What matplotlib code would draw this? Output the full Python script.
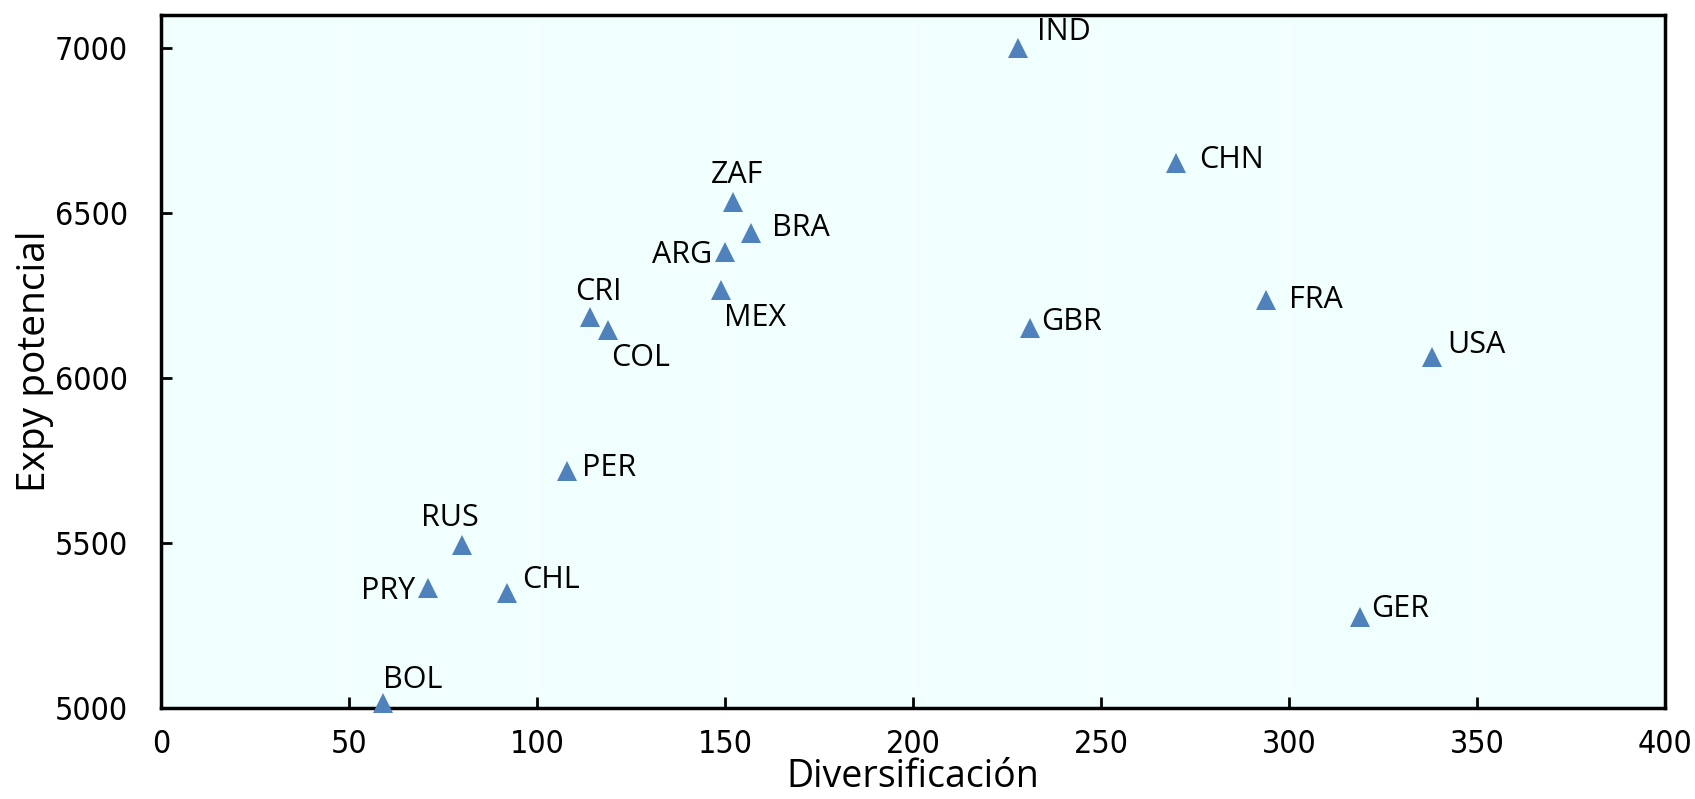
import matplotlib
matplotlib.use("Agg")
import matplotlib.pyplot as plt

# Country data: diversification vs. potential EXPY
countries = ['IND', 'CHN', 'ZAF', 'BRA', 'ARG', 'MEX', 'CRI', 'COL', 'GBR',
             'FRA', 'USA', 'PER', 'RUS', 'PRY', 'CHL', 'GER', 'BOL']
diversificacion = [228, 270, 152, 157, 150, 149, 114, 119, 231,
                   294, 338, 108, 80, 71, 92, 319, 59]
expy_potencial = [7000, 6653, 6532, 6440, 6381, 6267, 6185, 6146, 6152,
                  6237, 6064, 5717, 5494, 5363, 5350, 5275, 5016]

# label placement (pixel offsets, horizontal alignment)
label_dx = [19, 23, 5, 21, -13, 3, 9, 3, 12, 23, 15, 15, -12, -13, 15, 11, 0]
label_dy = [16, 3, 27, 5, -3, -28, 25, -28, 6, 0, 12, 3, 27, -3, 12, 8, 23]
label_ha = ['left', 'left', 'center', 'left', 'right', 'left', 'center', 'left', 'left',
            'left', 'left', 'left', 'center', 'right', 'left', 'left', 'left']

label_font = 'Open Sans'

fig = plt.figure(figsize=(16.95, 7.99), dpi=100)
ax = fig.add_axes([161 / 1695, 1 - 708 / 799, (1665 - 161) / 1695, (708 - 15) / 799])
ax.set_facecolor('#F0FEFE')

ax.plot(diversificacion, expy_potencial, linestyle='none', marker='^',
        markersize=15, color='#4F81BD', markeredgewidth=0, zorder=3, clip_on=False)

for name, x, y, dx, dy, ha in zip(countries, diversificacion, expy_potencial,
                                  label_dx, label_dy, label_ha):
    ax.annotate(name, (x, y), xytext=(dx, dy), textcoords='offset pixels',
                ha=ha, va='center', fontsize=22, family=label_font, color='black')

ax.set_xlim(0, 400)
ax.set_ylim(5000, 7100)
ax.set_xticks(range(0, 401, 50))
ax.set_yticks(range(5000, 7001, 500))
ax.grid(axis='x', color='white', linewidth=1)
ax.set_axisbelow(True)

for s in ax.spines.values():
    s.set_linewidth(2.5)
    s.set_color('black')

ax.tick_params(direction='in', length=8, width=2, top=False, right=False, labelsize=23)
ax.tick_params(axis='x', pad=15)
ax.tick_params(axis='y', pad=24)
for lab in ax.get_xticklabels() + ax.get_yticklabels():
    lab.set_family('DejaVu Sans')
    lab.set_stretch('condensed')

ax.set_xlabel('Diversificación', fontsize=27, family=label_font, labelpad=-1)
ax.set_ylabel('Expy potencial', fontsize=28, family=label_font, labelpad=0)

fig.savefig('out.png', dpi=100, facecolor='white')
